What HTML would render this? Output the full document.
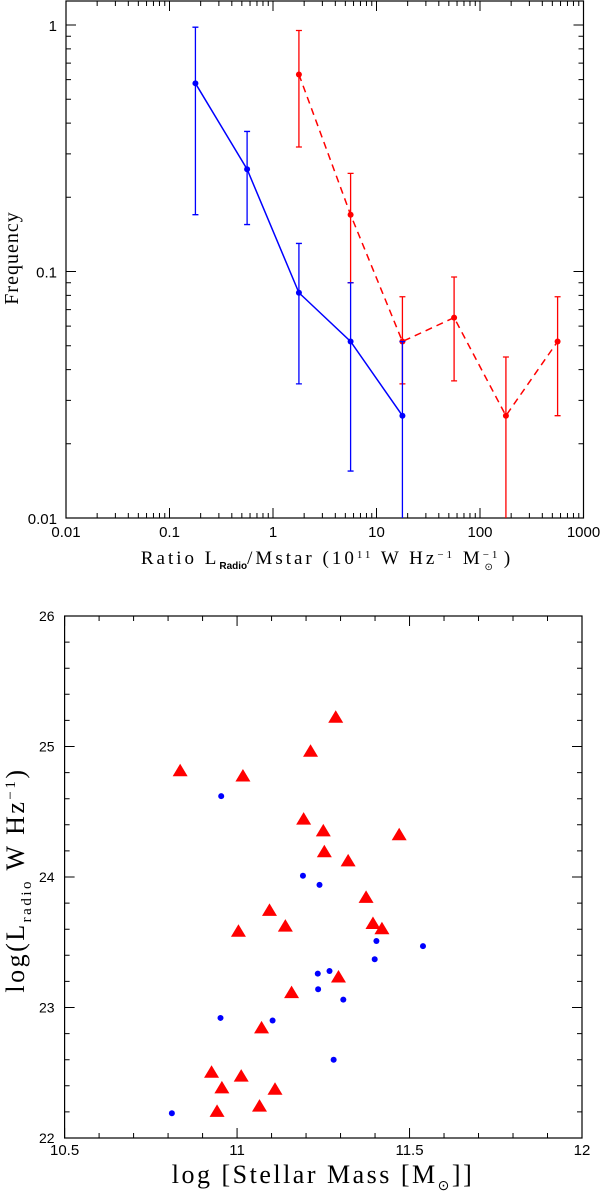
<!DOCTYPE html>
<html><head><meta charset="utf-8"><style>
html,body{margin:0;padding:0;background:#fff;}
svg{display:block;font-family:"Liberation Serif",serif;}
</style></head><body>
<svg id="s" width="600" height="1195" viewBox="0 0 600 1195">
<g id="topg"></g>
<g id="botg"></g>
</svg>
<script>
// ---- Top chart data ----
const xCats = [0.178, 0.562, 1.78, 5.62, 17.8, 56.2, 178, 562];
const blueY = [0.58, 0.26, 0.082, 0.052, 0.026];
const blueLo = [0.17, 0.155, 0.035, 0.0155, 0.005];
const blueHi = [0.98, 0.37, 0.13, 0.09, 0.052];
const redX = [1.78, 5.62, 17.8, 56.2, 178, 562];
const redY = [0.63, 0.17, 0.052, 0.065, 0.026, 0.052];
const redLo = [0.32, 0.09, 0.035, 0.036, 0.005, 0.026];
const redHi = [0.95, 0.25, 0.079, 0.095, 0.045, 0.079];
const xTickLabels = ["0.01","0.1","1","10","100","1000"];
const yTickLabels = ["0.01","0.1","1"];
// ---- Bottom chart data ----
const triX = [10.835,11.017,11.286,11.213,11.193,11.25,11.47,11.253,11.322,11.374,11.094,11.14,11.004,11.394,11.42,11.294,11.158,11.071,10.926,11.012,10.956,11.11,10.942,11.065];
const triY = [24.81,24.77,25.22,24.96,24.44,24.35,24.32,24.19,24.12,23.84,23.74,23.62,23.58,23.64,23.60,23.23,23.11,22.84,22.50,22.47,22.38,22.37,22.20,22.24];
const dotX = [10.954,11.191,11.239,11.404,11.539,11.399,11.234,11.268,11.235,11.308,10.952,11.103,11.28,10.811];
const dotY = [24.62,24.01,23.94,23.51,23.47,23.37,23.26,23.28,23.14,23.06,22.92,22.90,22.60,22.19];
const bxTicks = ["10.5","11","11.5","12"];
const byTicks = ["22","23","24","25","26"];

const NS="http://www.w3.org/2000/svg";
function mk(parent,tag,attrs,text){const e=document.createElementNS(NS,tag);for(const k in attrs)e.setAttribute(k,attrs[k]);if(text!==undefined)e.textContent=text;parent.appendChild(e);return e;}

// top axes
const L=66,R=583.5,T=1,B=518;
const DEC=246.5;
const X=v=>L+(Math.log10(v)+2)*(R-L)/5;
const Y=v=>B-(Math.log10(v)+2)*DEC;
const clampY=v=>Math.min(B,Y(v));
const gTop=document.getElementById('topg');
let fr=mk(gTop,'rect',{x:L,y:T,width:R-L,height:B-T,fill:'none',stroke:'#000','stroke-width':1.2});


let tk='';
for(let d=-2;d<3;d++)for(let m=1;m<10;m++){const v=m*Math.pow(10,d);const x=X(v),len=m==1?10:5;tk+=`M${x},${B}v${-len}M${x},${T}v${len}`;}
tk+=`M${X(1000)},${B}v-10M${X(1000)},${T}v10`;
for(let d=-2;d<1;d++)for(let m=1;m<10;m++){const v=m*Math.pow(10,d);if(Y(v)<T)break;const y=Y(v),len=m==1?10:5;tk+=`M${L},${y}h${len}M${R},${y}h${-len}`;}
let tp=mk(gTop,'path',{d:tk,stroke:'#000','stroke-width':1,fill:'none'});


xTickLabels.forEach((t,i)=>{const e=mk(gTop,'text',{x:X(Math.pow(10,i-2)),y:537,'font-size':15,'font-family':'Liberation Sans','text-anchor':'middle'},t);

});
yTickLabels.forEach((t,i)=>{const e=mk(gTop,'text',{x:L-9,y:Y(Math.pow(10,i-2))+6,'font-size':15,'font-family':'Liberation Sans','text-anchor':'end'},t);

});
let yt=mk(gTop,'text',{x:0,y:0,'font-size':20,'text-anchor':'middle',transform:'translate(18,258) rotate(-90)','letter-spacing':'1'},'Frequency');


let xt=mk(gTop,'text',{x:327,y:564,'font-size':19,'text-anchor':'middle','letter-spacing':'3'});


xt.innerHTML='Ratio  L<tspan font-size="10" dy="5" font-family="Liberation Sans" font-weight="bold" letter-spacing="0">Radio</tspan><tspan dy="-5">/Mstar (10</tspan><tspan font-size="11" dy="-6">11</tspan><tspan dy="6"> W Hz</tspan><tspan font-size="11" dy="-6">−1</tspan><tspan dy="6"> M</tspan><tspan font-size="11" dy="-6">−1</tspan><tspan font-size="10" dx="-16" dy="12">⊙</tspan><tspan dy="-6" dx="8">)</tspan>';
function series(xs,ys,lo,hi,col,dash,name){
  const g=mk(gTop,'g',{});
  
  
  mk(g,'polyline',{points:xs.map((x,i)=>X(x)+','+Y(ys[i])).join(' '),fill:'none',stroke:col,'stroke-width':1.5,'stroke-dasharray':dash});
  xs.forEach((x,i)=>{
    const cx=X(x),y1=clampY(lo[i]),y2=Y(hi[i]);
    let d=`M${cx},${y1}V${y2}M${cx-3},${y2}h6`;if(lo[i]>=0.01)d+=`M${cx-3},${y1}h6`;
    const eb=mk(g,'path',{d:d,stroke:col,'stroke-width':1.3,fill:'none'});
    
    
    const c=mk(g,'circle',{cx:cx,cy:Y(ys[i]),r:3,fill:col});
    
    
  });
}
series(redX,redY,redLo,redHi,'#f00','7,5','red-series');
series(xCats.slice(0,5),blueY,blueLo,blueHi,'#00f','none','blue-series');

// bottom axes
const L2=64.6,R2=582,T2=616,B2=1138;
const X2=v=>L2+(v-10.5)*(R2-L2)/1.5;
const Y2=v=>B2-(v-22)*(B2-T2)/4;
const gBot=document.getElementById('botg');
let fr2=mk(gBot,'rect',{x:L2,y:T2,width:R2-L2,height:B2-T2,fill:'none',stroke:'#000','stroke-width':1.2});


let tk2='';
for(let i=0;i<=15;i++){const x=X2(10.5+i*0.1),len=i%5==0?10:5;tk2+=`M${x},${B2}v${-len}M${x},${T2}v${len}`;}
for(let i=0;i<=20;i++){const y=Y2(22+i*0.2),len=i%5==0?10:5;tk2+=`M${L2},${y}h${len}M${R2},${y}h${-len}`;}
let tp2=mk(gBot,'path',{d:tk2,stroke:'#000','stroke-width':1,fill:'none'});


bxTicks.forEach(t=>{const e=mk(gBot,'text',{x:X2(+t),y:1155,'font-size':15,'font-family':'Liberation Sans','text-anchor':'middle'},t);

});
byTicks.forEach(t=>{const e=mk(gBot,'text',{x:L2-10,y:Y2(+t)+5,'font-size':14,'font-family':'Liberation Sans','text-anchor':'end'},t);

});
let bxt=mk(gBot,'text',{x:323,y:1183,'font-size':26,'text-anchor':'middle','letter-spacing':'2.5'});


bxt.innerHTML='log [Stellar Mass [M<tspan font-size="14" dy="7">⊙</tspan><tspan dy="-7">]]</tspan>';
let byt=mk(gBot,'text',{x:0,y:0,'font-size':26,'text-anchor':'middle','letter-spacing':'2.5',transform:'translate(24,880) rotate(-90)'});


byt.innerHTML='log(L<tspan font-size="15" dy="7">radio</tspan><tspan dy="-7"> W Hz</tspan><tspan font-size="15" dy="-9">−1</tspan><tspan dy="9">)</tspan>';
triX.forEach((x,i)=>{const cx=X2(x),cy=Y2(triY[i]);
  const p=mk(gBot,'polygon',{points:`${cx-7.5},${cy+5} ${cx+7.5},${cy+5} ${cx},${cy-7.5}`,fill:'#f00'});
  
  });
dotX.forEach((x,i)=>{const c=mk(gBot,'circle',{cx:X2(x),cy:Y2(dotY[i]),r:3,fill:'#00f'});
  
  });
</script>
</body></html>
